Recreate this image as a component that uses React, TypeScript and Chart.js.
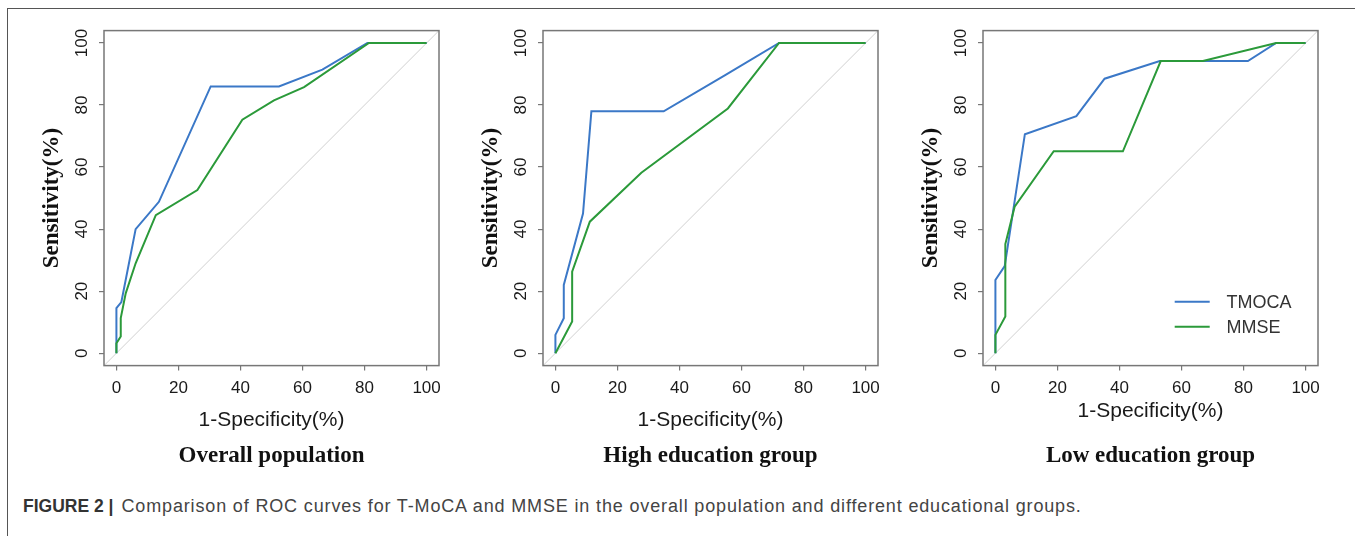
import React, { useEffect, useRef } from "react";
import { Chart, registerables } from "chart.js";

Chart.register(...registerables);

// ---------- data ----------
const xTicks = [0, 20, 40, 60, 80, 100];
const yTicks = [0, 20, 40, 60, 80, 100];
const diagonalX = [-4, 104];
const diagonalY = [-4, 104];

const seriesNames = ["TMOCA", "MMSE"];
const panelTitles = ["Overall population", "High education group", "Low education group"];
const xAxisTitle = "1-Specificity(%)";
const yAxisTitle = "Sensitivity(%)";
const captionBold = "FIGURE 2 |";
const captionText =
  "Comparison of ROC curves for T-MoCA and MMSE in the overall population and different educational groups.";

// Overall population
const overallTmocaX = [0, 0, 0, 1.6, 6.2, 13.7, 30.4, 52.4, 66.4, 80.9, 100];
const overallTmocaY = [0, 3, 14.5, 16.5, 40, 48.8, 86, 86, 91.4, 100, 100];
const overallMmseX = [0, 0, 1.4, 1.4, 3, 6.2, 12.7, 26.1, 40.6, 50.8, 60.5, 81.4, 100];
const overallMmseY = [0, 3.2, 5.4, 11.3, 19.3, 29, 44.5, 52.6, 75.3, 81.5, 85.8, 100, 100];

// High education group
const highTmocaX = [0, 0, 2.7, 2.7, 8.9, 11.6, 34.9, 54.6, 72.1, 100];
const highTmocaY = [0, 5.9, 11.3, 22, 45, 78, 78, 89.6, 100, 100];
const highMmseX = [0, 5.4, 5.4, 11.1, 27.7, 55.6, 72.1, 100];
const highMmseY = [0, 10.2, 26.3, 42.4, 58.2, 78.9, 100, 100];

// Low education group
const lowTmocaX = [0, 0, 0, 3, 9.5, 26.1, 35.2, 53, 81.4, 90.5, 100];
const lowTmocaY = [0, 5.9, 23.6, 28.1, 70.6, 76.4, 88.5, 94.2, 94.2, 100, 100];
const lowMmseX = [0, 0, 3.2, 3.2, 6.2, 18.8, 41.1, 53.3, 66.9, 90.5, 100];
const lowMmseY = [0, 5.9, 11.8, 35.2, 47.2, 65.1, 65.1, 94.2, 94.2, 100, 100];

// ---------- styles ----------
const BLUE = "#3b78c7";
const GREEN = "#2b9a3a";
const DIAG = "#d0d0d0";
const AXIS = "#777777";
const TEXT = "#1a1a1a";
const SANS = "'Liberation Sans', Arial, sans-serif";
const SERIF = "'Liberation Serif', 'Times New Roman', serif";

const CANVAS_W = 440;
const CANVAS_H = 480;
const LEFT_PAD = 16;
const Y_W = 68;
const X_H = 70;
const BOX = 335;
const TOP = 30.6;

type PanelDef = {
  boxLeft: number;
  tx: number[];
  ty: number[];
  mx: number[];
  my: number[];
  title: string;
  xTitlePad: number;
  legend: boolean;
};

const panels: PanelDef[] = [
  { boxLeft: 103.6, tx: overallTmocaX, ty: overallTmocaY, mx: overallMmseX, my: overallMmseY, title: panelTitles[0], xTitlePad: 3, legend: false },
  { boxLeft: 543.3, tx: highTmocaX, ty: highTmocaY, mx: highMmseX, my: highMmseY, title: panelTitles[1], xTitlePad: 3, legend: false },
  { boxLeft: 983.3, tx: lowTmocaX, ty: lowTmocaY, mx: lowMmseX, my: lowMmseY, title: panelTitles[2], xTitlePad: 12, legend: true },
];

const zip = (xs: number[], ys: number[]) => xs.map((x, i) => ({ x, y: ys[i] }));

function Panel({ def }: { def: PanelDef }) {
  const ref = useRef<HTMLCanvasElement | null>(null);
  useEffect(() => {
    if (!ref.current) return;
    const overlay = {
      id: "overlay",
      afterDraw(chart: any) {
        const { ctx, chartArea } = chart;
        const ys = chart.scales.y;
        ctx.save();
        // box
        ctx.strokeStyle = AXIS;
        ctx.lineWidth = 1.5;
        ctx.strokeRect(chartArea.left, chartArea.top, chartArea.right - chartArea.left, chartArea.bottom - chartArea.top);
        // y tick labels (rotated, parallel to axis)
        ctx.fillStyle = TEXT;
        ctx.font = `17px ${SANS}`;
        ctx.textAlign = "center";
        ctx.textBaseline = "middle";
        for (const v of yTicks) {
          const py = ys.getPixelForValue(v);
          ctx.save();
          ctx.translate(chartArea.left - 22, py);
          ctx.rotate(-Math.PI / 2);
          ctx.fillText(String(v), 0, 0);
          ctx.restore();
        }
        // panel title
        ctx.font = `bold 23px ${SERIF}`;
        ctx.fillStyle = "#111";
        ctx.fillText(def.title, (chartArea.left + chartArea.right) / 2, 456);
        // legend
        if (def.legend) {
          const lx = chartArea.left + 191.7;
          const items = [
            { name: seriesNames[0], color: BLUE, y: chartArea.top + 271.1 },
            { name: seriesNames[1], color: GREEN, y: chartArea.top + 296.1 },
          ];
          ctx.font = `18px ${SANS}`;
          ctx.textAlign = "left";
          for (const it of items) {
            ctx.strokeStyle = it.color;
            ctx.lineWidth = 2;
            ctx.beginPath();
            ctx.moveTo(lx, it.y);
            ctx.lineTo(lx + 35, it.y);
            ctx.stroke();
            ctx.fillStyle = "#333";
            ctx.fillText(it.name, lx + 51.7, it.y + 1);
          }
        }
        ctx.restore();
      },
    };

    const chart = new Chart(ref.current, {
      type: "scatter",
      data: {
        datasets: [
          { label: seriesNames[1], data: zip(def.mx, def.my), borderColor: GREEN, borderWidth: 2, showLine: true, pointRadius: 0, tension: 0, order: 0 },
          { label: seriesNames[0], data: zip(def.tx, def.ty), borderColor: BLUE, borderWidth: 2, showLine: true, pointRadius: 0, tension: 0, order: 1 },
          { label: "ref", data: zip(diagonalX, diagonalY), borderColor: DIAG, borderWidth: 1, showLine: true, pointRadius: 0, tension: 0, order: 2 },
        ],
      },
      options: {
        responsive: false,
        animation: false,
        devicePixelRatio: 1,
        events: [],
        layout: {
          padding: { left: LEFT_PAD, top: TOP, right: CANVAS_W - LEFT_PAD - Y_W - BOX, bottom: CANVAS_H - TOP - BOX - X_H },
        },
        plugins: { legend: { display: false }, tooltip: { enabled: false }, title: { display: false } },
        scales: {
          x: {
            type: "linear",
            min: -4,
            max: 104,
            afterBuildTicks: (s: any) => { s.ticks = xTicks.map((v) => ({ value: v })); },
            afterFit: (s: any) => { s.height = X_H; },
            grid: { drawOnChartArea: false, drawTicks: true, tickLength: 5, color: AXIS, lineWidth: 1.2 },
            border: { display: false },
            ticks: { color: TEXT, font: { family: SANS, size: 17 }, padding: 8, maxRotation: 0, minRotation: 0, autoSkip: false },
            title: { display: true, text: xAxisTitle, color: TEXT, font: { family: SANS, size: 21 }, padding: { top: 0, bottom: def.xTitlePad } },
          },
          y: {
            type: "linear",
            min: -4,
            max: 104,
            afterBuildTicks: (s: any) => { s.ticks = yTicks.map((v) => ({ value: v })); },
            afterFit: (s: any) => { s.width = Y_W; },
            grid: { drawOnChartArea: false, drawTicks: true, tickLength: 5, color: AXIS, lineWidth: 1.2 },
            border: { display: false },
            ticks: { display: false },
            title: { display: true, text: yAxisTitle, color: "#111", font: { family: SERIF, size: 23, weight: "bold" }, padding: { top: 2.3, bottom: 0 } },
          },
        },
      },
      plugins: [overlay],
    } as any);
    return () => chart.destroy();
  }, [def]);

  return (
    <canvas
      ref={ref}
      width={CANVAS_W}
      height={CANVAS_H}
      style={{ position: "absolute", left: def.boxLeft - LEFT_PAD - Y_W, top: 0, width: CANVAS_W, height: CANVAS_H }}
    />
  );
}

export default function App() {
  return (
    <div style={{ position: "absolute", left: 0, top: 0, width: 1355, height: 536, background: "#fff", overflow: "hidden" }}>
      <div style={{ position: "absolute", left: 7, top: 8, width: 1360, height: 540, borderLeft: "1px solid #555", borderTop: "1px solid #555" }} />
      {panels.map((p, i) => (
        <Panel key={i} def={p} />
      ))}
      <div
        style={{
          position: "absolute",
          left: 23,
          top: 495,
          fontFamily: SANS,
          lineHeight: "22px",
          color: "#444",
          whiteSpace: "nowrap",
        }}
      >
        <span style={{ fontWeight: "bold", color: "#333", fontSize: 17.5 }}>{captionBold}</span>
        <span style={{ fontSize: 18, letterSpacing: "0.85px", marginLeft: 8 }}>{captionText}</span>
      </div>
    </div>
  );
}
